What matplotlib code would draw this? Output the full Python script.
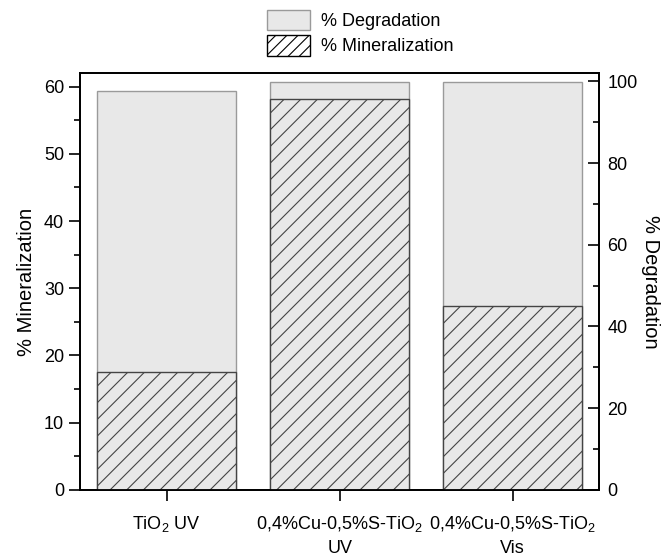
import numpy as np
import matplotlib
matplotlib.use("Agg")
import matplotlib.pyplot as plt
from matplotlib.patches import Patch
from matplotlib.ticker import MultipleLocator

plt.rcParams['font.family'] = ['Liberation Sans', 'DejaVu Sans']
plt.rcParams['mathtext.default'] = 'regular'
plt.rcParams['hatch.linewidth'] = 0.8

categories = ['TiO$_2$ UV', '0,4%Cu-0,5%S-TiO$_2$\nUV', '0,4%Cu-0,5%S-TiO$_2$\nVis']
degradation = [97.6, 99.9, 99.9]      # right axis
mineralization = [17.5, 58.2, 27.3]   # left axis

x = np.arange(len(categories))

fig = plt.figure(figsize=(6.68, 5.58), dpi=100)
ax = fig.add_axes([0.12, 0.122, 0.777, 0.747])
ax2 = ax.twinx()

ax2.bar(x, degradation, width=0.8, color='#e8e8e8', edgecolor='#9a9a9a', linewidth=1.0)
ax.bar(x, mineralization, width=0.8, color='#e8e8e8', edgecolor='#444444',
       hatch='//', linewidth=1.0)

# hatched bars above the gray ones
ax.set_zorder(ax2.get_zorder() + 1)
ax.patch.set_visible(False)

ax.set_xlim(-0.5, 2.5)
ax.set_ylim(0, 62)
ax2.set_ylim(0, 102)

ax.yaxis.set_major_locator(MultipleLocator(10))
ax.yaxis.set_minor_locator(MultipleLocator(5))
ax2.yaxis.set_major_locator(MultipleLocator(20))
ax2.yaxis.set_minor_locator(MultipleLocator(10))

ax.set_xticks(x)
ax.set_xticklabels(categories, fontsize=13, linespacing=1.5)
ax.tick_params(axis='both', which='major', direction='out', length=8, width=1.2, labelsize=13)
ax.tick_params(axis='y', which='minor', direction='out', length=4.5, width=1.2)
ax2.tick_params(axis='y', which='major', direction='in', length=8, width=1.2, labelsize=13, pad=6)
ax2.tick_params(axis='y', which='minor', direction='in', length=4.5, width=1.2)
ax.tick_params(axis='x', pad=9)

for a in (ax, ax2):
    for s in a.spines.values():
        s.set_linewidth(1.3)

ax.set_ylabel('% Mineralization', fontsize=14.5, labelpad=6)
ax2.set_ylabel('% Degradation', fontsize=14.5, rotation=270, labelpad=16)

handles = [Patch(facecolor='#e8e8e8', edgecolor='#9a9a9a', label='% Degradation'),
           Patch(facecolor='white', edgecolor='black', hatch='///', label='% Mineralization')]
fig.legend(handles=handles, loc='upper left', bbox_to_anchor=(0.375, 1.012), frameon=False,
           fontsize=13, handlelength=2.4, handleheight=1.35, labelspacing=0.3, handletextpad=0.6)

fig.savefig('out.png', dpi=100)
